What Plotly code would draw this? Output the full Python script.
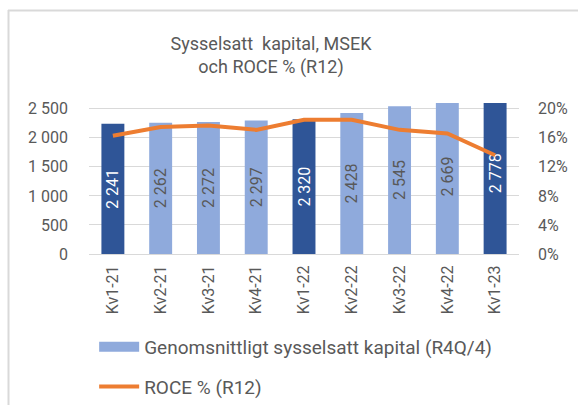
import plotly.graph_objects as go

categories = ["Kv1-21", "Kv2-21", "Kv3-21", "Kv4-21", "Kv1-22", "Kv2-22", "Kv3-22", "Kv4-22", "Kv1-23"]
capital = [2241, 2262, 2272, 2297, 2320, 2428, 2545, 2669, 2778]
capital_labels = ["2 241", "2 262", "2 272", "2 297", "2 320", "2 428", "2 545", "2 669", "2 778"]
roce = [16.3, 17.5, 17.7, 17.1, 18.5, 18.5, 17.1, 16.6, 13.6]
left_ticks = [0, 500, 1000, 1500, 2000, 2500]
left_ticktext = ["0", "500", "1 000", "1 500", "2 000", "2 500"]
right_ticks = [0, 4, 8, 12, 16, 20]
right_ticktext = ["0%", "4%", "8%", "12%", "16%", "20%"]

DARK = "#2F5597"
LIGHT = "#8FAADC"
ORANGE = "#ED7D31"
GREY = "#595959"
FONT = "Roboto"

bar_colors = [DARK if c.startswith("Kv1") else LIGHT for c in categories]
text_colors = ["white" if c.startswith("Kv1") else GREY for c in categories]

fig = go.Figure()
fig.add_trace(go.Bar(
    x=categories, y=capital, name="Genomsnittligt sysselsatt kapital (R4Q/4)",
    marker=dict(color=bar_colors, line=dict(width=0)),
    text=capital_labels, textposition="inside", insidetextanchor="middle",
    textangle=-90, textfont=dict(size=16, color=text_colors, family=FONT),
    constraintext="none", cliponaxis=True, showlegend=False,
))
# legend-only entry for the bar series (light colour swatch)
fig.add_trace(go.Scatter(
    x=[None], y=[None], name="Genomsnittligt sysselsatt kapital (R4Q/4)",
    mode="lines", line=dict(color=LIGHT, width=10), legendgroup="a",
))
fig.add_trace(go.Scatter(
    x=categories, y=roce, name="ROCE % (R12)", yaxis="y2",
    mode="lines", line=dict(color=ORANGE, width=4), legendgroup="b",
))

fig.update_layout(
    width=578, height=405,
    margin=dict(l=89, r=59, t=103, b=151, autoexpand=False),
    paper_bgcolor="white", plot_bgcolor="white",
    font=dict(family=FONT, color=GREY, size=16),
    bargap=0.52,
    showlegend=True,
    legend=dict(
        orientation="v", x=0.012, xanchor="left",
        yref="container", y=1 - 328/405, yanchor="top",
        font=dict(size=19, color=GREY), tracegroupgap=12, itemwidth=40,
        bgcolor="rgba(0,0,0,0)",
    ),
    title=dict(
        text="Sysselsatt  kapital, MSEK<br>och ROCE % (R12)",
        x=271/578, xanchor="center", y=1 - 50/405, yanchor="middle",
        font=dict(size=18, color=GREY, family=FONT),
    ),
    xaxis=dict(
        tickangle=-90, showgrid=False, showline=True, linecolor="#D9D9D9",
        ticks="", tickfont=dict(size=16, color=GREY), ticklabelstandoff=4,
    ),
    yaxis=dict(
        range=[0, 2600], tickvals=left_ticks, ticktext=left_ticktext,
        showgrid=True, gridcolor="#D9D9D9", gridwidth=1, zeroline=False,
        tickfont=dict(size=16, color=GREY), ticklabelstandoff=20,
    ),
    yaxis2=dict(
        range=[0, 20.8], tickvals=right_ticks, ticktext=right_ticktext,
        overlaying="y", side="right", showgrid=False, zeroline=False,
        tickfont=dict(size=16, color=GREY), ticklabelstandoff=18,
    ),
    shapes=[
        dict(type="line", xref="paper", yref="paper", x0=-81/430, x1=1.2, y0=1 + 92.5/151, y1=1 + 92.5/151,
             line=dict(color="#D9D9D9", width=2)),
        dict(type="line", xref="paper", yref="paper", x0=-80.5/430, x1=-80.5/430, y0=1 + 93/151, y1=-1.2,
             line=dict(color="#D9D9D9", width=2)),
    ],
)

fig.write_html("out.html")
